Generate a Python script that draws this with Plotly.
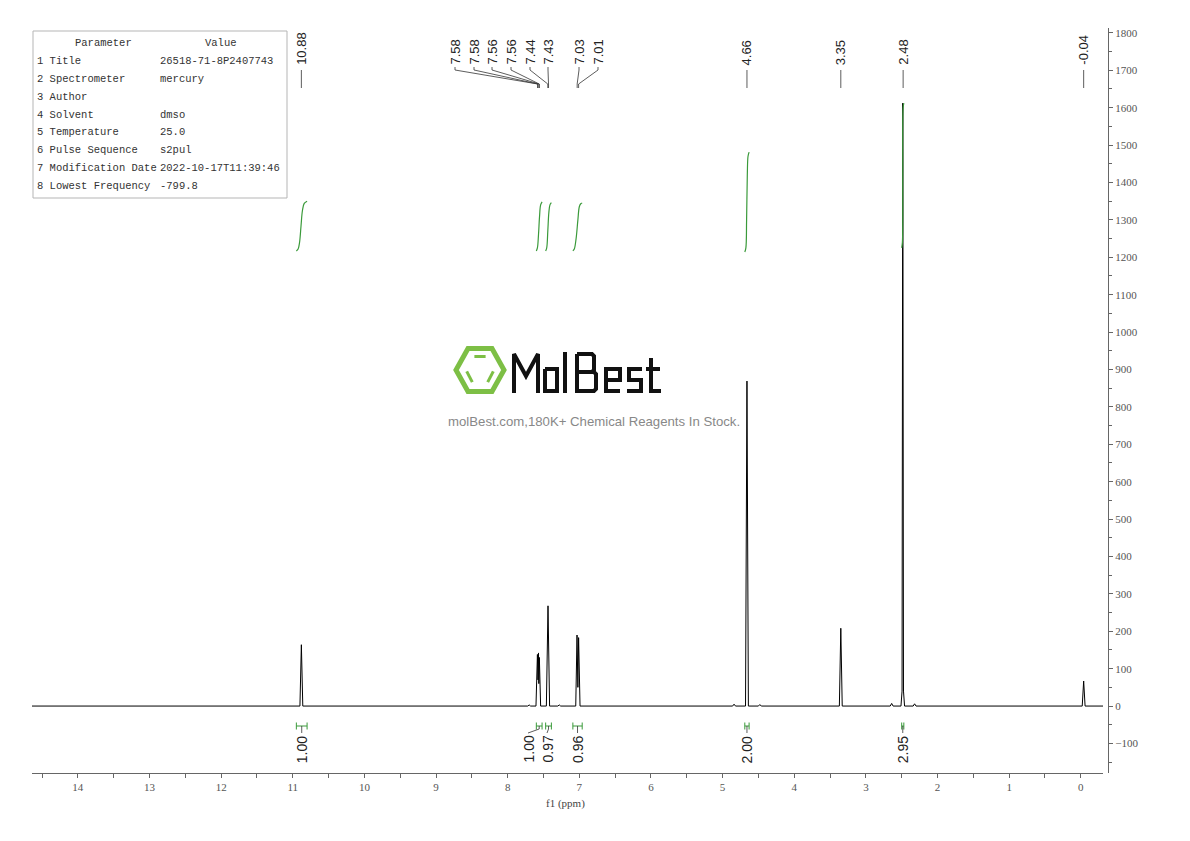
import math
import plotly.graph_objects as go

# ---------------- data ----------------
spec_ppm = [14.64, 10.90, 10.88, 10.86,
            7.72, 7.70, 7.68,
            7.605, 7.585, 7.577, 7.570, 7.565, 7.558, 7.54,
            7.46, 7.437, 7.415,
            7.30, 7.28, 7.26,
            7.05, 7.032, 7.02, 7.01, 6.99,
            4.86, 4.84, 4.82,
            4.68, 4.66, 4.64,
            4.50, 4.48, 4.46,
            3.37, 3.35, 3.33,
            2.66, 2.64, 2.62,
            2.51, 2.495, 2.485, 2.475, 2.46,
            2.34, 2.32, 2.30,
            -0.02, -0.04, -0.06, -0.31]
spec_int = [0, 0, 164, 0,
            0, 3, 0,
            0, 138, 70, 142, 60, 130, 0,
            0, 268, 0,
            0, 3, 0,
            0, 190, 50, 183, 0,
            0, 5, 0,
            0, 869, 0,
            0, 4, 0,
            0, 208, 0,
            0, 7, 0,
            0, 40, 1612, 40, 0,
            0, 6, 0,
            0, 67, 0, 0]

peak_labels = [10.88, 7.58, 7.58, 7.56, 7.56, 7.44, 7.43, 7.03, 7.01, 4.66, 3.35, 2.48, -0.04]

integral_values = [1.00, 1.00, 0.97, 0.96, 2.00, 2.95]

int1_ppm = [10.95, 10.925, 10.905, 10.885, 10.865, 10.84, 10.80]
int1_val = [1217, 1222, 1240, 1283, 1325, 1344, 1350]
int2_ppm = [7.60, 7.585, 7.57, 7.555, 7.54, 7.52]
int2_val = [1217, 1225, 1260, 1310, 1340, 1348]
int3_ppm = [7.47, 7.455, 7.44, 7.425, 7.41, 7.39]
int3_val = [1217, 1225, 1270, 1320, 1340, 1346]
int4_ppm = [7.09, 7.07, 7.045, 7.02, 7.00, 6.98, 6.96]
int4_val = [1217, 1222, 1250, 1300, 1335, 1343, 1345]
int5_ppm = [4.69, 4.675, 4.665, 4.655, 4.645, 4.63]
int5_val = [1214, 1225, 1300, 1420, 1470, 1481]
int6_ppm = [2.50, 2.49, 2.485, 2.48, 2.47]
int6_val = [1225, 1240, 1420, 1600, 1612]
integral_curves = [(int1_ppm, int1_val), (int2_ppm, int2_val), (int3_ppm, int3_val),
                   (int4_ppm, int4_val), (int5_ppm, int5_val), (int6_ppm, int6_val)]

x_tick_vals = list(range(0, 15))
y_tick_vals = list(range(-100, 1900, 100))

param_names = ["1 Title", "2 Spectrometer", "3 Author", "4 Solvent", "5 Temperature",
               "6 Pulse Sequence", "7 Modification Date", "8 Lowest Frequency"]
param_values = ["26518-71-8P2407743", "mercury", "", "dmso", "25.0", "s2pul",
                "2022-10-17T11:39:46", "-799.8"]

# ---------------- layout geometry (page pixels) ----------------
PAGE_OFF = 8                      # default body margin of the html page
FW, FH = 1190 - 2 * PAGE_OFF, 841 - 2 * PAGE_OFF
L, R, T, B = 32, 1108, 28, 773
X_END = 1103
X0, X1 = 14.64, -0.31
Y0, Y1 = -179, 1813
GREEN = "#3a9a3a"
LOGO_GREEN = "#7dbf45"
AX = "#666666"


def px2ppm(px):
    return X0 - (px - L) / (X_END - L) * (X0 - X1)


def pyp(py):
    return (B - py) / (B - T)


def pxp(px):
    return (px - L) / (R - L)


fig = go.Figure()
fig.add_trace(go.Scatter(x=spec_ppm, y=spec_int, mode="lines",
                         line=dict(color="#000000", width=1), hoverinfo="skip"))
for xs, ys in integral_curves:
    fig.add_trace(go.Scatter(x=xs, y=ys, mode="lines",
                             line=dict(color=GREEN, width=1.2, shape="spline"),
                             hoverinfo="skip"))

shapes = []
annotations = []

# ---- peak labels (top) ----
label_slot_px = [None, 455, 474, 492, 511, 530, 548, 579, 598, None, None, None, None]
for val, slot in zip(peak_labels, label_slot_px):
    p = val
    s = px2ppm(slot) if slot is not None else p
    annotations.append(dict(x=s, xref="x", y=pyp(67), yref="paper", text=f"{val:.2f}",
                            textangle=-90, showarrow=False, xanchor="center", yanchor="bottom",
                            font=dict(family="Liberation Sans, Arial", size=13, color="#222")))
    if slot is None:
        path = f"M {p},{pyp(70)} L {p},{pyp(88)}"
    else:
        path = f"M {s},{pyp(67)} L {s},{pyp(70)} L {p},{pyp(84)} L {p},{pyp(88)}"
    shapes.append(dict(type="path", path=path, xref="x", yref="paper",
                       line=dict(color="#333", width=0.8)))

# ---- integral brackets & labels (bottom) ----
int_label_slot_px = [None, 528, 547, None, None, None]
for val, (xs, ys), slot in zip(integral_values, integral_curves, int_label_slot_px):
    a, b = xs[0], xs[-1]
    c = (a + b) / 2
    yb = pyp(726)
    shapes.append(dict(type="line", xref="x", yref="paper", x0=a, x1=b, y0=yb, y1=yb,
                       line=dict(color=GREEN, width=1)))
    for e in (a, b):
        shapes.append(dict(type="line", xref="x", yref="paper", x0=e, x1=e,
                           y0=pyp(722.5), y1=pyp(729.5), line=dict(color=GREEN, width=1)))
    s = px2ppm(slot) if slot is not None else c
    shapes.append(dict(type="path", xref="x", yref="paper",
                       path=f"M {c},{yb} L {c},{pyp(729)} L {s},{pyp(733)}",
                       line=dict(color="#333", width=0.8)))
    annotations.append(dict(x=s, xref="x", y=pyp(734), yref="paper", text=f"{val:.2f}",
                            textangle=-90, showarrow=False, xanchor="center", yanchor="top",
                            font=dict(family="Liberation Sans, Arial", size=14, color="#222")))

# ---- parameter table ----
shapes.append(dict(type="rect", xref="paper", yref="paper", x0=pxp(33), x1=pxp(287),
                   y0=pyp(198), y1=pyp(31), line=dict(color="#b5b5b5", width=1)))
tfont = dict(family="Liberation Mono, Courier New, monospace", size=10.5, color="#333")
annotations.append(dict(x=pxp(103), y=pyp(43), xref="paper", yref="paper", text="Parameter",
                        showarrow=False, xanchor="center", yanchor="middle", font=tfont))
annotations.append(dict(x=pxp(221), y=pyp(43), xref="paper", yref="paper", text="Value",
                        showarrow=False, xanchor="center", yanchor="middle", font=tfont))
for i, (n, v) in enumerate(zip(param_names, param_values)):
    yy = 61 + i * 17.86
    annotations.append(dict(x=pxp(35), y=pyp(yy), xref="paper", yref="paper", text=n,
                            showarrow=False, xanchor="left", yanchor="middle", font=tfont))
    if v:
        annotations.append(dict(x=pxp(158), y=pyp(yy), xref="paper", yref="paper", text=v,
                                showarrow=False, xanchor="left", yanchor="middle", font=tfont))

# ---- watermark logo ----
cx, cy, rx, ry = 480, 370, 24, 21.5
verts = [(cx + rx * math.cos(math.radians(a)), cy + ry * math.sin(math.radians(a)) / math.sin(math.radians(60)))
         for a in range(0, 360, 60)]
hexpath = "M " + " L ".join(f"{pxp(x)},{pyp(y)}" for x, y in verts) + " Z"
shapes.append(dict(type="path", xref="paper", yref="paper", path=hexpath,
                   line=dict(color=LOGO_GREEN, width=5)))
ri, rj = 14, 13.5
inner = [(cx + ri * math.cos(math.radians(a)), cy + rj * math.sin(math.radians(a)) / math.sin(math.radians(60)))
         for a in range(0, 360, 60)]
for i0, i1 in [(4, 5), (0, 1), (2, 3)]:
    (xa, ya), (xb, yb_) = inner[i0], inner[i1]
    ma, mb = 0.1, 0.9
    shapes.append(dict(type="line", xref="paper", yref="paper",
                       x0=pxp(xa + (xb - xa) * ma), y0=pyp(ya + (yb_ - ya) * ma),
                       x1=pxp(xa + (xb - xa) * mb), y1=pyp(ya + (yb_ - ya) * mb),
                       line=dict(color=LOGO_GREEN, width=3)))

# "MolBest" word-mark drawn as strokes (squared display lettering)
letter_paths = [
    [(514, 393), (514, 354), (526, 376), (538, 354), (538, 393)],          # M
    [(545, 369), (557, 369), (557, 391), (545, 391), (545, 369)],          # o
    [(565, 352), (565, 393)],                                              # l
    [(577, 354), (592, 354), (594, 356), (594, 370), (592, 372), (577, 372)],   # B top
    [(577, 372), (594, 372), (596, 374), (596, 389), (594, 391), (577, 391), (577, 354)],  # B bottom
    [(606, 380), (620, 380), (620, 369), (606, 369), (606, 391), (620, 391)],   # e
    [(642, 369), (629, 369), (629, 380), (641, 380), (641, 391), (627, 391)],   # s
    [(651, 358), (651, 391), (661, 391)],                                  # t stem
    [(646, 369), (660, 369)],                                              # t bar
]
for pts in letter_paths:
    d = "M " + " L ".join(f"{pxp(x)},{pyp(y)}" for x, y in pts)
    shapes.append(dict(type="path", xref="paper", yref="paper", path=d,
                       line=dict(color="#111111", width=4)))
annotations.append(dict(x=pxp(594), y=pyp(421), xref="paper", yref="paper",
                        text="molBest.com,180K+ Chemical Reagents In Stock.",
                        showarrow=False, xanchor="center", yanchor="middle",
                        font=dict(family="Liberation Sans, Arial", size=13.2, color="#888")))

# ---- axis title ----
annotations.append(dict(x=pxp(565), y=pyp(803), xref="paper", yref="paper", text="f1 (ppm)",
                        showarrow=False, xanchor="center", yanchor="middle",
                        font=dict(family="Liberation Serif, serif", size=11, color="#444")))

axfont = dict(family="Liberation Serif, Times New Roman, serif", size=11, color="#555")
fig.update_layout(
    width=FW, height=FH, paper_bgcolor="white", plot_bgcolor="white",
    margin=dict(l=L - PAGE_OFF, r=(PAGE_OFF + FW) - R, t=T - PAGE_OFF, b=(PAGE_OFF + FH) - B),
    showlegend=False,
    xaxis=dict(range=[X0, X1], domain=[0, (X_END - L) / (R - L)], tickvals=x_tick_vals,
               ticks="outside", ticklen=4, tickcolor=AX, showline=True, linecolor=AX,
               linewidth=1, showgrid=False, zeroline=False, tickfont=axfont,
               minor=dict(dtick=0.5, ticks="outside", ticklen=4, tickcolor=AX)),
    yaxis=dict(range=[Y0, Y1], side="right", anchor="free", position=1,
               tickvals=y_tick_vals, ticks="outside", ticklen=4, tickcolor=AX,
               showline=True, linecolor=AX, linewidth=1, showgrid=False, zeroline=False,
               tickfont=axfont,
               minor=dict(tick0=50, dtick=100, ticks="outside", ticklen=3, tickcolor=AX)),
    shapes=shapes, annotations=annotations,
)
fig.write_html("out.html")
